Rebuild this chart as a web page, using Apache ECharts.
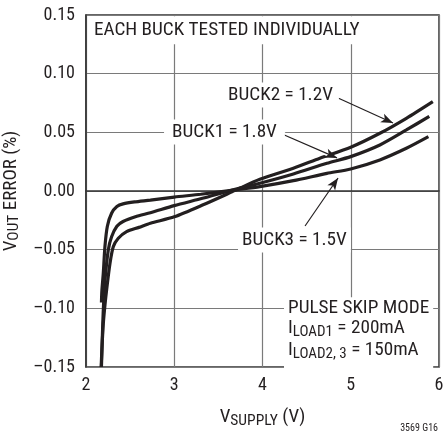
<!DOCTYPE html>
<html>
<head>
<meta charset="utf-8">
<script src="https://cdn.jsdelivr.net/npm/echarts@6/dist/echarts.min.js"></script>
<style>
  html, body { margin: 0; padding: 0; background: #fff; }
  #main { width: 446px; height: 436px; }
</style>
</head>
<body>
<div id="main"></div>
<script>
// supply voltage (V) and output error (%)
const buck3V = [2.175, 2.18, 2.196, 2.215, 2.242, 2.29, 2.35, 2.42, 2.55, 2.73, 3.0, 3.3, 3.69, 3.97, 4.35, 4.73, 5.0, 5.33, 5.63, 5.88];
const buck3E = [-0.095, -0.085, -0.070, -0.047, -0.030, -0.019, -0.0133, -0.011, -0.0093, -0.0078, -0.0052, -0.0028, 0.001, 0.0037, 0.0088, 0.015, 0.0188, 0.0265, 0.0364, 0.0463];

const buck1V = [2.175, 2.183, 2.19, 2.2, 2.215, 2.253, 2.29, 2.35, 2.42, 2.56, 2.73, 3.0, 3.32, 3.69, 3.97, 4.35, 4.73, 5.0, 5.33, 5.63, 5.89];
const buck1E = [-0.15, -0.13, -0.113, -0.095, -0.076, -0.050, -0.039, -0.030, -0.026, -0.0219, -0.0185, -0.0125, -0.0062, 0.0015, 0.0066, 0.0145, 0.0236, 0.0293, 0.0392, 0.052, 0.0636];

const buck2V = [2.172, 2.18, 2.196, 2.215, 2.234, 2.272, 2.31, 2.366, 2.46, 2.6, 2.73, 3.0, 3.32, 3.69, 3.97, 4.35, 4.65, 5.0, 5.33, 5.63, 5.93];
const buck2E = [-0.15, -0.135, -0.113, -0.097, -0.084, -0.0616, -0.0474, -0.0403, -0.0346, -0.031, -0.0275, -0.022, -0.012, 0.0005, 0.010, 0.0194, 0.0279, 0.0373, 0.0492, 0.062, 0.0762];

const xTicks = [2, 3, 4, 5, 6];
const yTicks = [-0.15, -0.10, -0.05, 0.00, 0.05, 0.10, 0.15];

// where each text starts (left edge, vertical middle), in data units (V, %)
const labelPos = {
    title: [2.09, 0.137],
    buck2: [3.61, 0.0818],
    buck1: [2.975, 0.0503],
    buck3: [3.768, -0.0417],
    mode: [4.289, -0.0905]
};
const arrows = [
    [[4.856, 0.0793], [5.479, 0.058]],
    [[4.221, 0.0486], [4.844, 0.0282]],
    [[4.482, -0.0298], [4.856, 0.0111]]
];

const FONT = "'Liberation Sans Narrow', 'Arial Narrow', 'Roboto Condensed', 'Liberation Sans', sans-serif";
const INK = '#231f20';
const NOTE_SIZE = 19.2;

function zip(xs, ys) {
    return xs.map((x, i) => [x, ys[i]]);
}

function yLabel(v) {
    if (Math.abs(v) < 1e-9) return '0.00';
    return (v < 0 ? '\u2013' : '') + Math.abs(v).toFixed(2);
}

function curve(name, xs, ys) {
    return {
        name: name,
        type: 'line',
        data: zip(xs, ys),
        smooth: 0.25,
        showSymbol: false,
        lineStyle: { color: INK, width: 3.2 },
        z: 3
    };
}

// white gap where the BUCK1 arrow crosses the BUCK2 curve
const a1 = arrows[1];
const haloEnd = [a1[0][0] + 0.88 * (a1[1][0] - a1[0][0]), a1[0][1] + 0.88 * (a1[1][1] - a1[0][1])];

const chart = echarts.init(document.getElementById('main'), null, { renderer: 'canvas' });

const nameRich = {
    m: { fontFamily: FONT, fontSize: 19, color: INK },
    s: { fontFamily: FONT, fontSize: 15.5, color: INK, padding: [7, 0, 0, 0] }
};

const option = {
    animation: false,
    backgroundColor: '#fff',
    grid: {
        left: 86, right: 7, top: 15, bottom: 69,
        outerBoundsMode: 'none',
        show: true, borderColor: '#333', borderWidth: 1.5
    },
    xAxis: {
        type: 'value',
        min: xTicks[0], max: xTicks[xTicks.length - 1], interval: 1,
        axisLine: { show: true, lineStyle: { color: '#333', width: 1.5 } },
        axisTick: { show: false },
        splitLine: { show: true, lineStyle: { color: '#7a7a7a', width: 1.2 } },
        axisLabel: { color: INK, fontFamily: FONT, fontSize: 18, margin: 9 },
        name: '{m|V}{s|SUPPLY}{m| (V)}',
        nameLocation: 'middle',
        nameGap: 39,
        nameTextStyle: { rich: nameRich }
    },
    yAxis: {
        type: 'value',
        min: yTicks[0], max: yTicks[yTicks.length - 1], interval: 0.05,
        axisLine: { show: true, lineStyle: { color: '#333', width: 1.5 } },
        axisTick: { show: false },
        splitLine: { show: true, lineStyle: { color: '#7a7a7a', width: 1.2 } },
        axisLabel: { color: INK, fontFamily: FONT, fontSize: 18, margin: 11, formatter: yLabel },
        name: '{m|V}{s|OUT}{m| ERROR (%)}',
        nameLocation: 'middle',
        nameGap: 48,
        nameRotate: 90,
        nameTextStyle: { rich: nameRich }
    },
    series: [
        curve('BUCK3', buck3V, buck3E),
        curve('BUCK1', buck1V, buck1E),
        curve('BUCK2', buck2V, buck2E),
        {
            name: 'halo',
            type: 'line',
            data: [],
            z: 4,
            markLine: {
                silent: true,
                animation: false,
                symbol: ['none', 'none'],
                label: { show: false },
                lineStyle: { color: '#fff', width: 5, type: 'solid', cap: 'butt' },
                data: [[{ coord: a1[0] }, { coord: haloEnd }]]
            }
        },
        {
            name: 'arrows',
            type: 'line',
            data: [],
            z: 5,
            markLine: {
                silent: true,
                animation: false,
                symbol: ['none', 'arrow'],
                symbolSize: [7, 12],
                label: { show: false },
                lineStyle: { color: INK, width: 1.2, type: 'solid' },
                data: arrows.map(a => [{ coord: a[0] }, { coord: a[1] }])
            }
        }
    ]
};

chart.setOption(option);

// place the text blocks once the scales exist
function px(p) {
    return chart.convertToPixel({ gridIndex: 0 }, p);
}
function note(key, text, pad) {
    const p = px(labelPos[key]);
    return {
        type: 'text', x: p[0] - pad[3], y: p[1], z: 10,
        style: {
            text: text, align: 'left', verticalAlign: 'middle',
            fontFamily: FONT, fontSize: NOTE_SIZE, fill: INK,
            backgroundColor: '#fff', padding: pad
        }
    };
}
const modePt = px(labelPos.mode);
chart.setOption({
    graphic: [
        note('title', 'EACH BUCK TESTED INDIVIDUALLY', [5, 4, 4, 4]),
        note('buck2', 'BUCK2 = 1.2V', [3, 6, 3, 6]),
        note('buck1', 'BUCK1 = 1.8V', [3, 8, 3, 8]),
        note('buck3', 'BUCK3 = 1.5V', [3, 4, 3, 4]),
        {
            type: 'text', x: modePt[0] - 4, y: modePt[1], z: 10,
            style: {
                text: '{a|PULSE SKIP MODE}\n{n|I}{s|LOAD1}{n| = 200mA}\n{n|I}{s|LOAD2, 3}{n| = 150mA}',
                align: 'left', verticalAlign: 'top',
                backgroundColor: '#fff', padding: [2, 4, 8, 4],
                fill: INK,
                rich: {
                    a: { fontFamily: FONT, fontSize: NOTE_SIZE, color: INK, lineHeight: 18 },
                    n: { fontFamily: FONT, fontSize: NOTE_SIZE, color: INK, lineHeight: 22 },
                    s: { fontFamily: FONT, fontSize: 15, color: INK, lineHeight: 22, padding: [9, 0, 0, 0] }
                }
            }
        },
        {
            type: 'text', right: 8, bottom: 3, z: 10,
            style: { text: '3569 G16', fontFamily: FONT, fontSize: 10, fill: INK }
        }
    ]
});
</script>
</body>
</html>
